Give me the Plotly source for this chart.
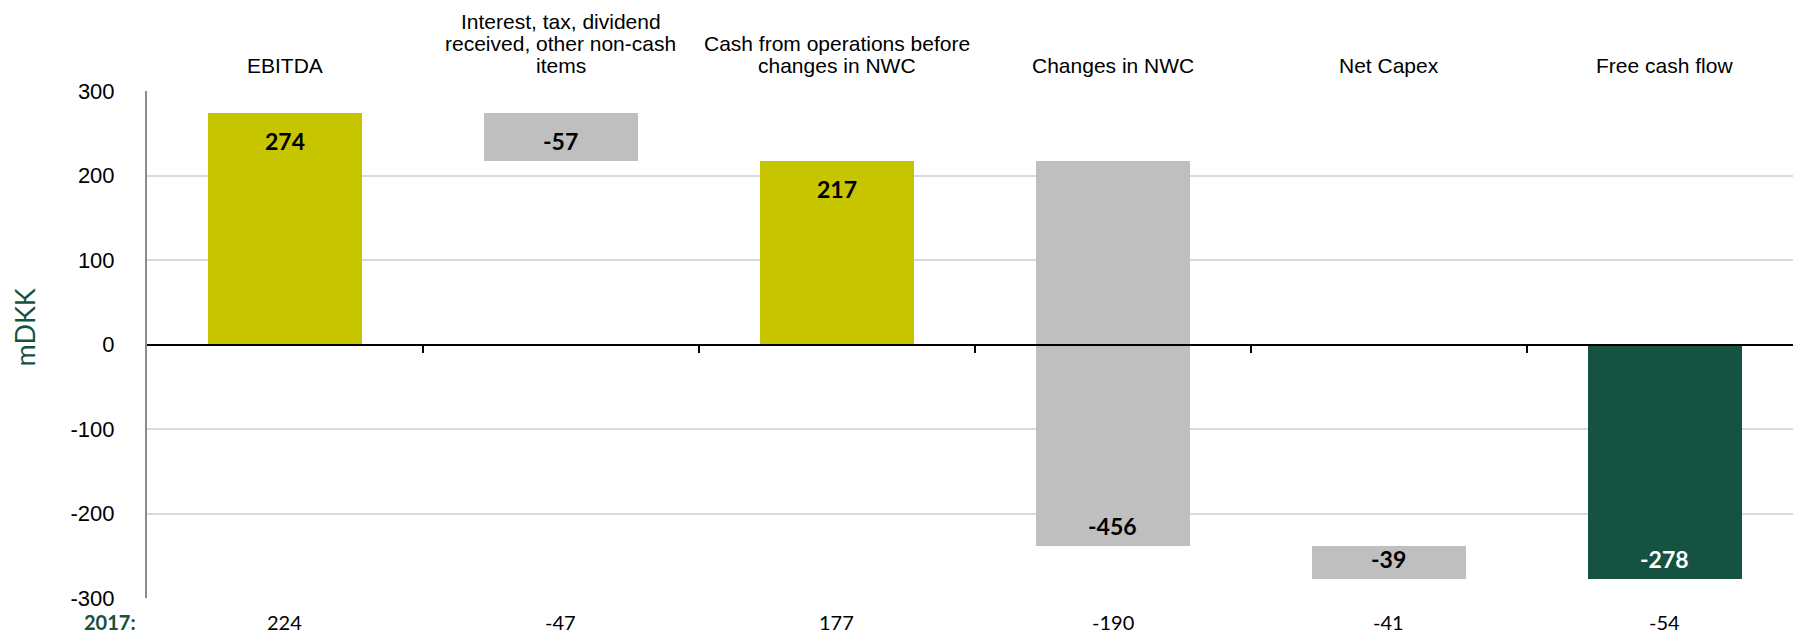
import plotly.graph_objects as go

# ---- data ----
categories = [
    "EBITDA",
    "Interest, tax, dividend<br>received, other non-cash<br>items",
    "Cash from operations before<br>changes in NWC",
    "Changes in NWC",
    "Net Capex",
    "Free cash flow",
]
values = [274, -57, 217, -456, -39, -278]
measures = ["absolute", "relative", "total", "relative", "relative", "total"]
prior_label = "2017:"
prior_values = [224, -47, 177, -190, -41, -54]
y_ticks = [-300, -200, -100, 0, 100, 200, 300]
y_title = "mDKK"

# ---- styles ----
YELLOW = "#C6C500"
GRAY = "#BFBFBF"
GREEN = "#165241"
bar_colors = [YELLOW, GRAY, YELLOW, GRAY, GRAY, GREEN]
label_colors = ["black", "black", "black", "black", "black", "white"]

# compute waterfall bases from the data
bases, heights = [], []
running = 0
for v, m in zip(values, measures):
    if m == "absolute":
        bases.append(0); heights.append(v); running = v
    elif m == "relative":
        bases.append(running); heights.append(v); running += v
    else:
        bases.append(0); heights.append(running)

x = list(range(len(categories)))

fig = go.Figure()
fig.add_trace(go.Bar(
    x=x, y=heights, base=bases, width=0.558,
    marker=dict(color=bar_colors, line=dict(width=0)),
    hoverinfo="skip", showlegend=False,
))

annotations = []
# value labels inside bar ends
for i, (b, h) in enumerate(zip(bases, heights)):
    end = b + h
    annotations.append(dict(
        x=i, y=end, xref="x", yref="y", text=f"<b>{values[i]}</b>", showarrow=False,
        yanchor="middle", yshift=-28 if h > 0 else 20,
        font=dict(family="Lato", size=23, color=label_colors[i]),
    ))

# category labels on top (one annotation per line for tight spacing)
for i, cat in enumerate(categories):
    lines = cat.split("<br>")
    n = len(lines)
    for j, ln in enumerate(lines):
        annotations.append(dict(
            x=i, y=1, xref="x", yref="paper", text=ln, showarrow=False,
            yanchor="middle", yshift=26 + (n - 1 - j) * 22,
            font=dict(family="Liberation Sans", size=21, color="black"),
        ))

# prior year row
annotations.append(dict(
    x=-0.0055, y=0, xref="paper", yref="paper", text=f"<b>{prior_label}</b>",
    showarrow=False, xanchor="right", yanchor="middle", yshift=-24,
    font=dict(family="Lato", size=20, color=GREEN),
))
for i, v in enumerate(prior_values):
    annotations.append(dict(
        x=i, y=0, xref="x", yref="paper", text=str(v), showarrow=False,
        yanchor="middle", yshift=-24,
        font=dict(family="Lato", size=20, color="black"),
    ))

# y-axis title
annotations.append(dict(
    x=-0.0747, y=0.5, xref="paper", yref="paper", text=y_title, showarrow=False,
    textangle=-90, xanchor="center", yanchor="middle", yshift=17,
    font=dict(family="Lato", size=27, color=GREEN),
))

fig.update_layout(
    width=1793, height=635,
    margin=dict(l=147, r=0, t=91, b=37),
    paper_bgcolor="white", plot_bgcolor="white",
    annotations=annotations,
    bargap=0,
    xaxis=dict(
        range=[-0.5, 5.464], anchor="free", position=0.5,
        showline=True, linecolor="black", linewidth=2,
        ticks="outside", tickvals=[0.5, 1.5, 2.5, 3.5, 4.5], ticklen=7,
        tickwidth=2, tickcolor="black", showticklabels=False, showgrid=False,
        zeroline=False, fixedrange=True,
    ),
    yaxis=dict(
        range=[-300, 300], tickvals=y_ticks, ticktext=[str(t) for t in y_ticks],
        showgrid=True, gridcolor="#D9D9D9", gridwidth=1.5, zeroline=False,
        showline=True, linecolor="#8C8C8C", linewidth=2,
        ticks="", ticklabelstandoff=26,
        tickfont=dict(family="Liberation Sans", size=22, color="black"),
        fixedrange=True,
    ),
)

fig.write_html(
    "out.html",
    config={"displayModeBar": False},
    post_script="document.body.style.margin='0';document.body.style.overflow='hidden';",
)
